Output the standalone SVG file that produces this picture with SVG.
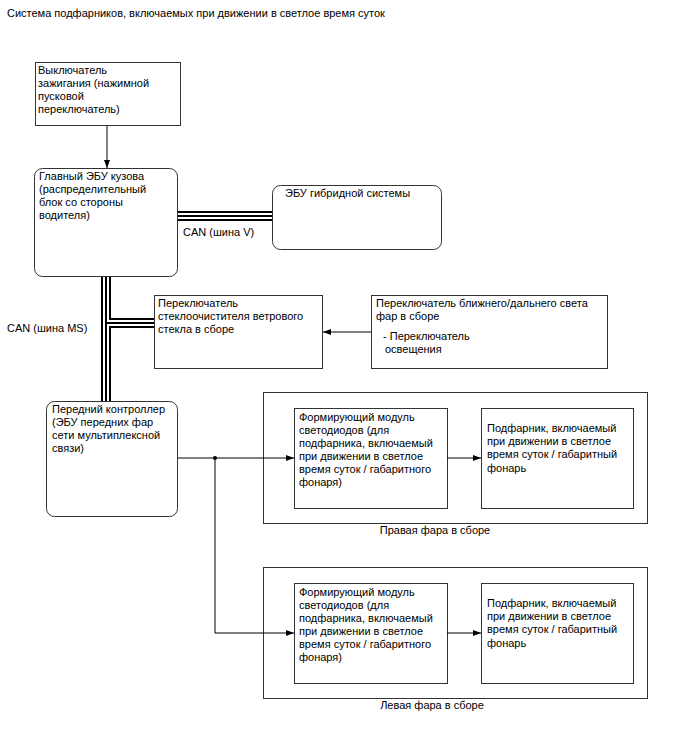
<svg xmlns="http://www.w3.org/2000/svg" width="688" height="755" viewBox="0 0 688 755">
<style>
text{font-family:"Liberation Sans",Arial,sans-serif;font-size:11px;fill:#000}
.b{fill:#fff;stroke:#333;stroke-width:1}
.l{fill:none;stroke:#000;stroke-width:1}
.busA{fill:none;stroke:#000;stroke-width:10}
.busB{fill:none;stroke:#fff;stroke-width:6}
.busC{fill:none;stroke:#000;stroke-width:2}
</style>
<defs>
<marker id="ah" markerWidth="8" markerHeight="6" refX="8" refY="3" orient="auto" markerUnits="userSpaceOnUse">
<path d="M0,0 L8,3 L0,6 Z" fill="#000"/>
</marker>
</defs>
<rect width="688" height="755" fill="#fff"/>
<text x="7" y="17">Система подфарников, включаемых при движении в светлое время суток</text>

<g id="ignition">
<rect class="b" x="35.5" y="62.5" width="145" height="63"/>
<text x="38" y="74">Выключатель</text>
<text x="38" y="87">зажигания (нажимной</text>
<text x="38" y="100">пусковой</text>
<text x="38" y="113">переключатель)</text>
</g>

<g id="body-ecu">
<rect class="b" x="34.5" y="168.5" width="143" height="108" rx="8"/>
<text x="39" y="180">Главный ЭБУ кузова</text>
<text x="39" y="193">(распределительный</text>
<text x="39" y="206">блок со стороны</text>
<text x="39" y="219">водителя)</text>
</g>

<g id="hybrid-ecu">
<rect class="b" x="272.5" y="185.5" width="169" height="64" rx="8"/>
<text x="285" y="197">ЭБУ гибридной системы</text>
</g>

<g id="wiper-switch">
<rect class="b" x="154.5" y="295.5" width="168" height="73"/>
<text x="158" y="307">Переключатель</text>
<text x="158" y="320">стеклоочистителя ветрового</text>
<text x="158" y="333">стекла в сборе</text>
</g>

<g id="light-switch">
<rect class="b" x="371.5" y="295.5" width="236" height="73"/>
<text x="376" y="307">Переключатель ближнего/дальнего света</text>
<text x="376" y="320">фар в сборе</text>
<text x="383" y="340">- Переключатель</text>
<text x="385" y="353">освещения</text>
</g>

<g id="front-controller">
<rect class="b" x="46.5" y="401.5" width="131" height="115" rx="8"/>
<text x="52" y="413">Передний контроллер</text>
<text x="52" y="426">(ЭБУ передних фар</text>
<text x="52" y="439">сети мультиплексной</text>
<text x="52" y="452">связи)</text>
</g>

<g id="right-headlight">
<rect class="b" x="263.5" y="392.5" width="384" height="131"/>
<text x="435" y="534" text-anchor="middle">Правая фара в сборе</text>
</g>
<g id="right-led-module">
<rect class="b" x="294.5" y="408.5" width="153" height="100"/>
<text x="299" y="421">Формирующий модуль</text>
<text x="299" y="434">светодиодов (для</text>
<text x="299" y="447">подфарника, включаемый</text>
<text x="299" y="460">при движении в светлое</text>
<text x="299" y="473">время суток / габаритного</text>
<text x="299" y="486">фонаря)</text>
</g>
<g id="right-drl">
<rect class="b" x="481.5" y="408.5" width="152" height="100"/>
<text x="487" y="432">Подфарник, включаемый</text>
<text x="487" y="445">при движении в светлое</text>
<text x="487" y="458">время суток / габаритный</text>
<text x="487" y="472">фонарь</text>
</g>

<g id="left-headlight">
<rect class="b" x="263.5" y="567.5" width="384" height="131"/>
<text x="432" y="709" text-anchor="middle">Левая фара в сборе</text>
</g>
<g id="left-led-module">
<rect class="b" x="294.5" y="583.5" width="153" height="100"/>
<text x="299" y="596">Формирующий модуль</text>
<text x="299" y="609">светодиодов (для</text>
<text x="299" y="622">подфарника, включаемый</text>
<text x="299" y="635">при движении в светлое</text>
<text x="299" y="648">время суток / габаритного</text>
<text x="299" y="661">фонаря)</text>
</g>
<g id="left-drl">
<rect class="b" x="481.5" y="583.5" width="152" height="100"/>
<text x="487" y="607">Подфарник, включаемый</text>
<text x="487" y="620">при движении в светлое</text>
<text x="487" y="633">время суток / габаритный</text>
<text x="487" y="647">фонарь</text>
</g>

<g id="connectors">
<path class="busA" d="M106,277 V401 M106,323 H154 M178,216 H272"/>
<path class="busB" d="M106,277 V401 M106,323 H154 M178,216 H272"/>
<path class="busC" d="M106,277 V401 M106,323 H154 M178,216 H272"/>
<path class="l" d="M107,126 V168" marker-end="url(#ah)"/>
<path class="l" d="M371,332 H323" marker-end="url(#ah)"/>
<path class="l" d="M178,458 H294" marker-end="url(#ah)"/>
<path class="l" d="M215,458 V633 H294" marker-end="url(#ah)"/>
<path class="l" d="M447,458 H481" marker-end="url(#ah)"/>
<path class="l" d="M447,633 H481" marker-end="url(#ah)"/>
<circle cx="215" cy="458" r="2" fill="#000"/>
<text x="183" y="236">CAN (шина V)</text>
<text x="7" y="332">CAN (шина MS)</text>
</g>
</svg>
